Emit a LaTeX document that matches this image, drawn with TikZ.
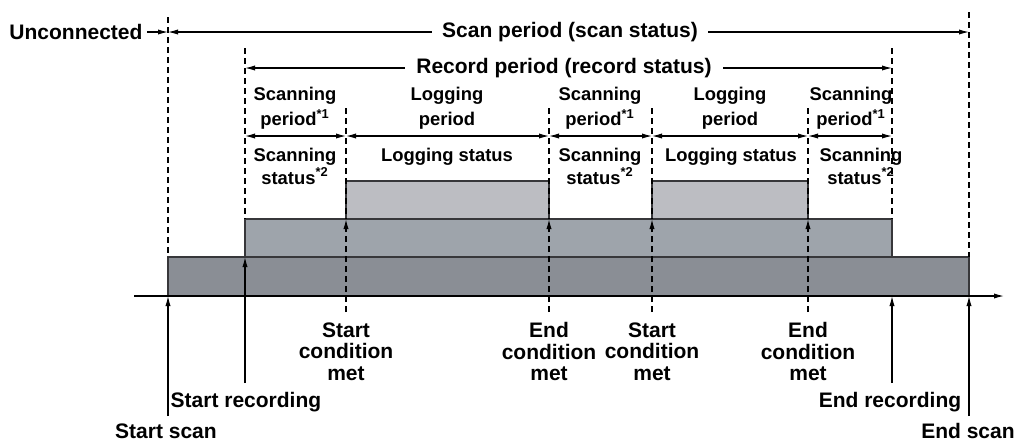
\documentclass[tikz,border=0pt]{standalone}
\usepackage{fontspec}
\setmainfont{Liberation Sans}
\usetikzlibrary{arrows.meta}
\usetikzlibrary{positioning}
\usetikzlibrary{calc}

\definecolor{scanfill}{RGB}{138,142,149}
\definecolor{recfill}{RGB}{158,164,171}
\definecolor{logfill}{RGB}{188,189,194}
\definecolor{barline}{RGB}{55,55,58}

\newcommand{\lblfont}{\fontsize{10.5}{10.8}\selectfont\bfseries}
\newcommand{\perfont}{\fontsize{9.2}{12.5}\selectfont\bfseries}
\newcommand{\statfont}{\fontsize{9.2}{10}\selectfont\bfseries}
\newcommand{\fn}[1]{\textsuperscript{*#1}}

\begin{document}
\begin{tikzpicture}[x=0.5pt,y=-0.5pt,>={Latex[length=5pt,width=2.6pt]},
					line width=0.55pt,
					guide/.style={dash pattern=on 3pt off 2pt,line width=0.6pt},
					bar/.style={draw=barline,line width=0.6pt},
					every node/.style={inner sep=0pt},
					big/.style={font=\lblfont,align=center},
					per/.style={font=\perfont,align=center,anchor=north},
					stat/.style={font=\statfont,align=center,anchor=north}]
	\useasboundingbox (0,0) rectangle (1029,441);

	% time axis
	\coordinate (ax_L) at (134,296);
	\coordinate (ax_R) at (1004,296);

	% status bars
	\filldraw[bar,fill=scanfill] (168,296) rectangle (969,257);
	\filldraw[bar,fill=recfill]  (245,257) rectangle (892,219);
	\filldraw[bar,fill=logfill]  (346,219) rectangle (549,181);
	\filldraw[bar,fill=logfill]  (652,219) rectangle (808,181);
	\draw[->,line width=0.6pt] (ax_L) -- (ax_R);

	% scan / record marks
	\coordinate (scan_on_t)  at (168,17);
	\coordinate (scan_on_m)  at (168,257);
	\coordinate (scan_on_a)  at (168,296);
	\coordinate (scan_on_b)  at (168,416);
	\coordinate (rec_on_t)   at (245,48);
	\coordinate (rec_on_m)   at (245,219);
	\coordinate (rec_on_a)   at (245,257);
	\coordinate (rec_on_b)   at (245,383);
	\coordinate (rec_off_t)  at (892,48);
	\coordinate (rec_off_m)  at (892,219);
	\coordinate (rec_off_a)  at (892,296);
	\coordinate (rec_off_b)  at (892,383);
	\coordinate (scan_off_t) at (969,12);
	\coordinate (scan_off_m) at (969,257);
	\coordinate (scan_off_a) at (969,296);
	\coordinate (scan_off_b) at (969,416);

	\draw[guide] (scan_on_t) -- (scan_on_m);
	\draw[guide] (rec_on_t) -- (rec_on_m);
	\draw[guide] (rec_off_t) -- (rec_off_m);
	\draw[guide] (scan_off_t) -- (scan_off_m);
	\draw[->] (scan_on_b) -- (scan_on_a);
	\draw[->] (rec_on_b) -- (rec_on_a);
	\draw[->] (rec_off_b) -- (rec_off_a);
	\draw[->] (scan_off_b) -- (scan_off_a);

	% start / end conditions
	\foreach \x/\n in {346/1,549/2,652/3,808/4} {
		\coordinate (cond_\n_t) at (\x,108);
		\coordinate (cond_\n_m) at (\x,219);
		\coordinate (cond_\n_b) at (\x,312);
		\draw[guide] (cond_\n_t) -- (cond_\n_m);
		\draw[guide,->] (cond_\n_b) -- (cond_\n_m);
	}

	% scan period
	\coordinate (scan_L) at (168,32);
	\coordinate (scan_R) at (969,32);
	\node[big,anchor=east,inner xsep=2pt] (uncon) at (147,32) {Unconnected};
	\node[big,inner xsep=5pt] (scan_lbl) at (570,32) {Scan period (scan status)};
	\draw[->] (uncon) -- (scan_L);
	\draw[<-] (scan_L) -- (scan_lbl);
	\draw[->] (scan_lbl) -- (scan_R);

	% record period
	\coordinate (rec_L) at (245,68);
	\coordinate (rec_R) at (892,68);
	\node[big,inner xsep=5.5pt] (rec_lbl) at (564,68) {Record period (record status)};
	\draw[<-] (rec_L) -- (rec_lbl);
	\draw[->] (rec_lbl) -- (rec_R);

	% scanning / logging periods
	\foreach \x/\n in {245/0,346/1,549/2,652/3,808/4,892/5}
		\coordinate (p_\n) at (\x,136);
	\foreach \a/\b in {0/1,1/2,2/3,3/4,4/5}
		\draw[<->] (p_\a) -- (p_\b);

	\node[per] (per_1) at (295,87) {Scanning\\period\fn1};
	\node[per] (per_2) at (447,87) {Logging\\period};
	\node[per] (per_3) at (600,87) {Scanning\\period\fn1};
	\node[per] (per_4) at (730,87) {Logging\\period};
	\node[per] (per_5) at (851,87) {Scanning\\period\fn1};

	\node[stat] (st_1) at (295,148) {Scanning\\status\fn2};
	\node[stat] (st_2) at (447,148) {Logging status};
	\node[stat] (st_3) at (600,148) {Scanning\\status\fn2};
	\node[stat] (st_4) at (731,148) {Logging status};
	\node[stat] (st_5) at (861,148) {Scanning\\status\fn2};

	% labels under the axis
	\node[big,anchor=north] (cond_1) at (346,322) {Start\\condition\\met};
	\node[big,anchor=north] (cond_2) at (549,322) {End\\condition\\met};
	\node[big,anchor=north] (cond_3) at (652,322) {Start\\condition\\met};
	\node[big,anchor=north] (cond_4) at (808,322) {End\\condition\\met};

	\node[big,anchor=base] (rec_on)   at (246,407) {Start recording};
	\node[big,anchor=base] (scan_on)  at (166,438) {Start scan};
	\node[big,anchor=base] (rec_off)  at (890,407) {End recording};
	\node[big,anchor=base] (scan_off) at (968,438) {End scan};
\end{tikzpicture}
\end{document}
